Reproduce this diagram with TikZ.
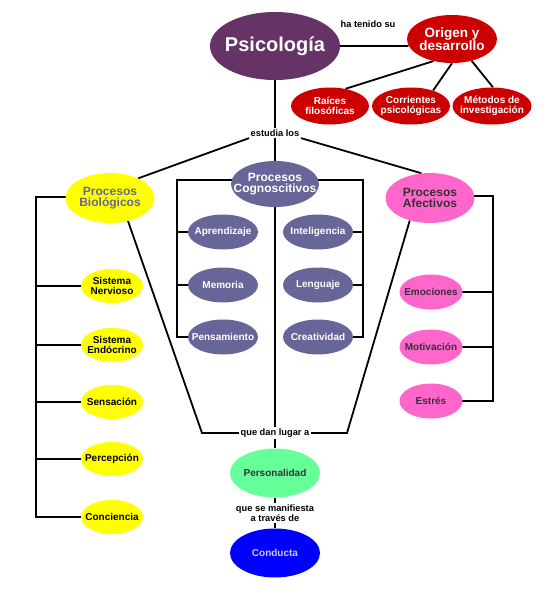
\documentclass[tikz,border=0pt]{standalone}
\usepackage{fontspec}
\setmainfont{Liberation Sans}
\usetikzlibrary{shapes.geometric}
\pgfdeclarelayer{back}\pgfdeclarelayer{lines}\pgfsetlayers{back,lines,main}
\definecolor{cpsi}{HTML}{663366}
\definecolor{cred}{HTML}{CC0000}
\definecolor{cyel}{HTML}{FFFF00}
\definecolor{ccog}{HTML}{666699}
\definecolor{cafe}{HTML}{FF66CC}
\definecolor{cper}{HTML}{66FF99}
\definecolor{ccon}{HTML}{0000FF}
\definecolor{cconT}{HTML}{CCCCFF}
\definecolor{cdark}{HTML}{333333}
\begin{document}
\begin{tikzpicture}[x=1pt,y=-1pt,
  ov/.style 2 args={ellipse, inner sep=0pt, minimum width=#1, minimum height=#2},
  lt/.style={align=center, inner sep=0pt, font=\bfseries\fontsize{10}{9.5}\selectfont},
  ht/.style={align=center, inner sep=0pt, font=\bfseries\fontsize{12}{11.5}\selectfont},
  lbl/.style={fill=white, inner sep=1.5pt, align=center, font=\bfseries\fontsize{9.3}{9.5}\selectfont},
  ln/.style={line width=1.8pt, black}]
\begin{pgfonlayer}{back}
\path[use as bounding box, fill=white] (0,0) rectangle (550,600);
\end{pgfonlayer}
% top
\node[ov={130}{68}, fill=cpsi, label={[align=center, inner sep=0pt, text=white, font=\bfseries\fontsize{20}{20}\selectfont]center:Psicología}] (psi) at (275,46) {};
\node[ov={90}{48}, fill=cred, label={[align=center, inner sep=0pt, text=white, font=\bfseries\fontsize{13.5}{13}\selectfont]center:Origen y\\desarrollo}] (ori) at (452,39) {};
\node[lbl] (ten) at (368,24) {ha tenido su};
\node[ov={78}{37}, fill=cred, label={[lt, text=white]center:Raíces\\filosóficas}] (rai) at (330,106) {};
\node[ov={78}{37}, fill=cred, label={[lt, text=white]center:Corrientes\\psicológicas}] (cor) at (411,106) {};
\node[ov={79}{37}, fill=cred, label={[lt, text=white]center:Métodos de\\investigación}] (met) at (492,106) {};
\node[lbl] (estu) at (275,133) {estudia los};
% cognoscitivos
\node[ov={88}{46}, fill=ccog, label={[ht, text=white]center:Procesos\\Cognoscitivos}] (cog) at (275,184) {};
\node[ov={70}{35}, fill=ccog, label={[lt, text=white]center:Aprendizaje}] (apr) at (223,232) {};
\node[ov={70}{35}, fill=ccog, label={[lt, text=white]center:Memoria}] (mem) at (223,285) {};
\node[ov={70}{35}, fill=ccog, label={[lt, text=white]center:Pensamiento}] (pen) at (223,337) {};
\node[ov={70}{35}, fill=ccog, label={[lt, text=white]center:Inteligencia}] (int) at (318,232) {};
\node[ov={70}{35}, fill=ccog, label={[lt, text=white]center:Lenguaje}] (len) at (318,285) {};
\node[ov={70}{35}, fill=ccog, label={[lt, text=white]center:Creatividad}] (cre) at (318,337) {};
% biologicos
\node[ov={89}{50}, fill=cyel, label={[ht, text=ccog]center:Procesos\\Biológicos}] (bio) at (110,198) {};
\node[ov={62}{34}, fill=cyel, label={[lt, text=black]center:Sistema\\Nervioso}] (sne) at (112,286) {};
\node[ov={62}{34}, fill=cyel, label={[lt, text=black]center:Sistema\\Endócrino}] (sen) at (112,345) {};
\node[ov={62}{34}, fill=cyel, label={[lt, text=black]center:Sensación}] (sns) at (112,402) {};
\node[ov={62}{34}, fill=cyel, label={[lt, text=black]center:Percepción}] (per) at (112,459) {};
\node[ov={62}{34}, fill=cyel, label={[lt, text=black]center:Conciencia}] (cnc) at (112,517) {};
% afectivos
\node[ov={89}{50}, fill=cafe, label={[ht, text=cdark]center:Procesos\\Afectivos}] (afe) at (430,198) {};
\node[ov={63}{35}, fill=cafe, label={[lt, text=cdark]center:Emociones}] (emo) at (431,292) {};
\node[ov={63}{35}, fill=cafe, label={[lt, text=cdark]center:Motivación}] (mot) at (431,347) {};
\node[ov={63}{35}, fill=cafe, label={[lt, text=cdark]center:Estrés}] (etr) at (431,401) {};
% bottom
\node[lbl] (que) at (275,433) {que dan lugar a};
\node[ov={90}{49}, fill=cper, label={[lt, text=cdark]center:Personalidad}] (pers) at (275,473) {};
\node[lbl] (man) at (275,513) {que se manifiesta\\a través de};
\node[ov={90}{49}, fill=ccon, label={[lt, text=cconT]center:Conducta}] (cond) at (275,553) {};
% coordinates
\coordinate (cl) at (177,180);
\coordinate (cr) at (363,180);
\coordinate (bl) at (36,197);
\coordinate (ar) at (493,196);
\coordinate (qL) at (202,433);
\coordinate (qR) at (347,433);
\begin{pgfonlayer}{lines}
\draw[ln] (psi.east) -- (ori.west |- psi.east) -- (ori);
\draw[ln] (ori.-130) -- (rai.48);
\draw[ln] (ori.-90) -- (cor.35);
\draw[ln] (ori.-48) -- (met.87);
\draw[ln] (psi) -- (estu) -- (cog);
\draw[ln] (estu.south west) -- (bio.35);
\draw[ln] (estu.south east) -- (afe.109);
% cognoscitivos brackets
\draw[ln] (cog.center |- cl) -- (cl) |- (pen.center);
\draw[ln] (apr.center) -- (apr.center -| cl);
\draw[ln] (mem.center) -- (mem.center -| cl);
\draw[ln] (cog.center |- cr) -- (cr) |- (cre.center);
\draw[ln] (int.center) -- (int.center -| cr);
\draw[ln] (len.center) -- (len.center -| cr);
% biologicos bracket
\draw[ln] (bio.center |- bl) -- (bl) |- (cnc.center);
\draw[ln] (sne.center) -- (sne.center -| bl);
\draw[ln] (sen.center) -- (sen.center -| bl);
\draw[ln] (sns.center) -- (sns.center -| bl);
\draw[ln] (per.center) -- (per.center -| bl);
% afectivos bracket
\draw[ln] (afe.center |- ar) -- (ar) |- (etr.center);
\draw[ln] (emo.center) -- (emo.center -| ar);
\draw[ln] (mot.center) -- (mot.center -| ar);
% convergence
\draw[ln] (bio.-52) -- (qL) -- (que);
\draw[ln] (afe.-132) -- (qR) -- (que);
\draw[ln] (cog) -- (que) -- (pers) -- (man) -- (cond);
\end{pgfonlayer}
\end{tikzpicture}
\end{document}
